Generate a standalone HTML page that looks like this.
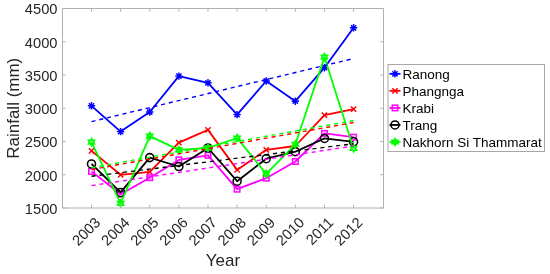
<!DOCTYPE html>
<html><head><meta charset="utf-8"><style>
html,body{margin:0;padding:0;background:#fff;width:550px;height:274px;overflow:hidden}
svg{display:block;will-change:transform}
text{-webkit-font-smoothing:antialiased}
.g{will-change:transform}
text{font-family:"Liberation Sans", sans-serif}
</style></head><body>
<svg width="550" height="274" viewBox="0 0 550 274">
<rect width="550" height="274" fill="#fff"/>
<g clip-path="url(#c)">
<polyline points="91.50,105.80 120.62,131.60 149.74,112.00 178.86,76.10 207.98,82.80 237.10,114.60 266.22,81.00 295.34,101.20 324.46,67.70 353.58,27.80" stroke="#0000ff" stroke-width="1.8" fill="none" stroke-linejoin="round"/><path d="M87.80,105.80L95.20,105.80M88.88,103.18L94.12,108.42M91.50,102.10L91.50,109.50M94.12,103.18L88.88,108.42" stroke="#0000ff" stroke-width="1.45" fill="none"/><path d="M116.92,131.60L124.32,131.60M118.00,128.98L123.24,134.22M120.62,127.90L120.62,135.30M123.24,128.98L118.00,134.22" stroke="#0000ff" stroke-width="1.45" fill="none"/><path d="M146.04,112.00L153.44,112.00M147.12,109.38L152.36,114.62M149.74,108.30L149.74,115.70M152.36,109.38L147.12,114.62" stroke="#0000ff" stroke-width="1.45" fill="none"/><path d="M175.16,76.10L182.56,76.10M176.24,73.48L181.48,78.72M178.86,72.40L178.86,79.80M181.48,73.48L176.24,78.72" stroke="#0000ff" stroke-width="1.45" fill="none"/><path d="M204.28,82.80L211.68,82.80M205.36,80.18L210.60,85.42M207.98,79.10L207.98,86.50M210.60,80.18L205.36,85.42" stroke="#0000ff" stroke-width="1.45" fill="none"/><path d="M233.40,114.60L240.80,114.60M234.48,111.98L239.72,117.22M237.10,110.90L237.10,118.30M239.72,111.98L234.48,117.22" stroke="#0000ff" stroke-width="1.45" fill="none"/><path d="M262.52,81.00L269.92,81.00M263.60,78.38L268.84,83.62M266.22,77.30L266.22,84.70M268.84,78.38L263.60,83.62" stroke="#0000ff" stroke-width="1.45" fill="none"/><path d="M291.64,101.20L299.04,101.20M292.72,98.58L297.96,103.82M295.34,97.50L295.34,104.90M297.96,98.58L292.72,103.82" stroke="#0000ff" stroke-width="1.45" fill="none"/><path d="M320.76,67.70L328.16,67.70M321.84,65.08L327.08,70.32M324.46,64.00L324.46,71.40M327.08,65.08L321.84,70.32" stroke="#0000ff" stroke-width="1.45" fill="none"/><path d="M349.88,27.80L357.28,27.80M350.96,25.18L356.20,30.42M353.58,24.10L353.58,31.50M356.20,25.18L350.96,30.42" stroke="#0000ff" stroke-width="1.45" fill="none"/><polyline points="91.50,150.90 120.62,174.80 149.74,171.90 178.86,142.60 207.98,129.90 237.10,169.90 266.22,149.80 295.34,146.00 324.46,115.20 353.58,109.20" stroke="#ff0000" stroke-width="1.8" fill="none" stroke-linejoin="round"/><path d="M88.85,148.25L94.15,153.55M88.85,153.55L94.15,148.25" stroke="#ff0000" stroke-width="1.45" fill="none"/><path d="M117.97,172.15L123.27,177.45M117.97,177.45L123.27,172.15" stroke="#ff0000" stroke-width="1.45" fill="none"/><path d="M147.09,169.25L152.39,174.55M147.09,174.55L152.39,169.25" stroke="#ff0000" stroke-width="1.45" fill="none"/><path d="M176.21,139.95L181.51,145.25M176.21,145.25L181.51,139.95" stroke="#ff0000" stroke-width="1.45" fill="none"/><path d="M205.33,127.25L210.63,132.55M205.33,132.55L210.63,127.25" stroke="#ff0000" stroke-width="1.45" fill="none"/><path d="M234.45,167.25L239.75,172.55M234.45,172.55L239.75,167.25" stroke="#ff0000" stroke-width="1.45" fill="none"/><path d="M263.57,147.15L268.87,152.45M263.57,152.45L268.87,147.15" stroke="#ff0000" stroke-width="1.45" fill="none"/><path d="M292.69,143.35L297.99,148.65M292.69,148.65L297.99,143.35" stroke="#ff0000" stroke-width="1.45" fill="none"/><path d="M321.81,112.55L327.11,117.85M321.81,117.85L327.11,112.55" stroke="#ff0000" stroke-width="1.45" fill="none"/><path d="M350.93,106.55L356.23,111.85M350.93,111.85L356.23,106.55" stroke="#ff0000" stroke-width="1.45" fill="none"/><polyline points="91.50,171.40 120.62,194.20 149.74,177.70 178.86,159.90 207.98,155.30 237.10,189.20 266.22,178.20 295.34,161.50 324.46,133.40 353.58,137.20" stroke="#ff00ff" stroke-width="1.8" fill="none" stroke-linejoin="round"/><rect x="88.75" y="168.65" width="5.50" height="5.50" stroke="#ff00ff" stroke-width="1.5" fill="none"/><rect x="117.87" y="191.45" width="5.50" height="5.50" stroke="#ff00ff" stroke-width="1.5" fill="none"/><rect x="146.99" y="174.95" width="5.50" height="5.50" stroke="#ff00ff" stroke-width="1.5" fill="none"/><rect x="176.11" y="157.15" width="5.50" height="5.50" stroke="#ff00ff" stroke-width="1.5" fill="none"/><rect x="205.23" y="152.55" width="5.50" height="5.50" stroke="#ff00ff" stroke-width="1.5" fill="none"/><rect x="234.35" y="186.45" width="5.50" height="5.50" stroke="#ff00ff" stroke-width="1.5" fill="none"/><rect x="263.47" y="175.45" width="5.50" height="5.50" stroke="#ff00ff" stroke-width="1.5" fill="none"/><rect x="292.59" y="158.75" width="5.50" height="5.50" stroke="#ff00ff" stroke-width="1.5" fill="none"/><rect x="321.71" y="130.65" width="5.50" height="5.50" stroke="#ff00ff" stroke-width="1.5" fill="none"/><rect x="350.83" y="134.45" width="5.50" height="5.50" stroke="#ff00ff" stroke-width="1.5" fill="none"/><polyline points="91.50,163.90 120.62,192.40 149.74,157.60 178.86,166.50 207.98,148.00 237.10,181.20 266.22,158.70 295.34,151.70 324.46,138.40 353.58,141.80" stroke="#000000" stroke-width="1.8" fill="none" stroke-linejoin="round"/><circle cx="91.50" cy="163.90" r="4.0" stroke="#000000" stroke-width="1.55" fill="none"/><circle cx="120.62" cy="192.40" r="4.0" stroke="#000000" stroke-width="1.55" fill="none"/><circle cx="149.74" cy="157.60" r="4.0" stroke="#000000" stroke-width="1.55" fill="none"/><circle cx="178.86" cy="166.50" r="4.0" stroke="#000000" stroke-width="1.55" fill="none"/><circle cx="207.98" cy="148.00" r="4.0" stroke="#000000" stroke-width="1.55" fill="none"/><circle cx="237.10" cy="181.20" r="4.0" stroke="#000000" stroke-width="1.55" fill="none"/><circle cx="266.22" cy="158.70" r="4.0" stroke="#000000" stroke-width="1.55" fill="none"/><circle cx="295.34" cy="151.70" r="4.0" stroke="#000000" stroke-width="1.55" fill="none"/><circle cx="324.46" cy="138.40" r="4.0" stroke="#000000" stroke-width="1.55" fill="none"/><circle cx="353.58" cy="141.80" r="4.0" stroke="#000000" stroke-width="1.55" fill="none"/><polyline points="91.50,142.10 120.62,203.40 149.74,136.10 178.86,149.90 207.98,148.00 237.10,138.00 266.22,173.90 295.34,144.30 324.46,57.10 353.58,148.40" stroke="#00ff00" stroke-width="1.8" fill="none" stroke-linejoin="round"/><path d="M91.50,138.80L92.45,140.45L94.36,140.45L93.41,142.10L94.36,143.75L92.45,143.75L91.50,145.40L90.55,143.75L88.64,143.75L89.59,142.10L88.64,140.45L90.55,140.45Z" stroke="#00ff00" stroke-width="1.8" fill="none" stroke-linejoin="miter" stroke-miterlimit="10"/><path d="M120.62,200.10L121.57,201.75L123.48,201.75L122.53,203.40L123.48,205.05L121.57,205.05L120.62,206.70L119.67,205.05L117.76,205.05L118.71,203.40L117.76,201.75L119.67,201.75Z" stroke="#00ff00" stroke-width="1.8" fill="none" stroke-linejoin="miter" stroke-miterlimit="10"/><path d="M149.74,132.80L150.69,134.45L152.60,134.45L151.65,136.10L152.60,137.75L150.69,137.75L149.74,139.40L148.79,137.75L146.88,137.75L147.83,136.10L146.88,134.45L148.79,134.45Z" stroke="#00ff00" stroke-width="1.8" fill="none" stroke-linejoin="miter" stroke-miterlimit="10"/><path d="M178.86,146.60L179.81,148.25L181.72,148.25L180.77,149.90L181.72,151.55L179.81,151.55L178.86,153.20L177.91,151.55L176.00,151.55L176.95,149.90L176.00,148.25L177.91,148.25Z" stroke="#00ff00" stroke-width="1.8" fill="none" stroke-linejoin="miter" stroke-miterlimit="10"/><path d="M207.98,144.70L208.93,146.35L210.84,146.35L209.89,148.00L210.84,149.65L208.93,149.65L207.98,151.30L207.03,149.65L205.12,149.65L206.07,148.00L205.12,146.35L207.03,146.35Z" stroke="#00ff00" stroke-width="1.8" fill="none" stroke-linejoin="miter" stroke-miterlimit="10"/><path d="M237.10,134.70L238.05,136.35L239.96,136.35L239.01,138.00L239.96,139.65L238.05,139.65L237.10,141.30L236.15,139.65L234.24,139.65L235.19,138.00L234.24,136.35L236.15,136.35Z" stroke="#00ff00" stroke-width="1.8" fill="none" stroke-linejoin="miter" stroke-miterlimit="10"/><path d="M266.22,170.60L267.17,172.25L269.08,172.25L268.13,173.90L269.08,175.55L267.17,175.55L266.22,177.20L265.27,175.55L263.36,175.55L264.31,173.90L263.36,172.25L265.27,172.25Z" stroke="#00ff00" stroke-width="1.8" fill="none" stroke-linejoin="miter" stroke-miterlimit="10"/><path d="M295.34,141.00L296.29,142.65L298.20,142.65L297.25,144.30L298.20,145.95L296.29,145.95L295.34,147.60L294.39,145.95L292.48,145.95L293.43,144.30L292.48,142.65L294.39,142.65Z" stroke="#00ff00" stroke-width="1.8" fill="none" stroke-linejoin="miter" stroke-miterlimit="10"/><path d="M324.46,53.80L325.41,55.45L327.32,55.45L326.37,57.10L327.32,58.75L325.41,58.75L324.46,60.40L323.51,58.75L321.60,58.75L322.55,57.10L321.60,55.45L323.51,55.45Z" stroke="#00ff00" stroke-width="1.8" fill="none" stroke-linejoin="miter" stroke-miterlimit="10"/><path d="M353.58,145.10L354.53,146.75L356.44,146.75L355.49,148.40L356.44,150.05L354.53,150.05L353.58,151.70L352.63,150.05L350.72,150.05L351.67,148.40L350.72,146.75L352.63,146.75Z" stroke="#00ff00" stroke-width="1.8" fill="none" stroke-linejoin="miter" stroke-miterlimit="10"/>
<line x1="91.50" y1="121.61" x2="353.58" y2="58.51" stroke="#0000ff" stroke-width="1.4" stroke-dasharray="4.1 3.85"/><line x1="91.50" y1="169.49" x2="353.58" y2="122.55" stroke="#ff0000" stroke-width="1.4" stroke-dasharray="4.1 3.85"/><line x1="91.50" y1="185.59" x2="353.58" y2="146.01" stroke="#ff00ff" stroke-width="1.4" stroke-dasharray="4.1 3.85"/><line x1="91.50" y1="176.29" x2="353.58" y2="143.75" stroke="#000000" stroke-width="1.4" stroke-dasharray="4.1 3.85"/><line x1="91.50" y1="167.69" x2="353.58" y2="120.55" stroke="#00ff00" stroke-width="1.4" stroke-dasharray="4.1 3.85"/>
</g>
<path d="M62.5,8.5H383.5V208.0H62.5Z" fill="none" stroke="#b0b0b0" stroke-width="1"/>
<path d="M91.50,208.0V204.8M91.50,8.5V11.7M120.62,208.0V204.8M120.62,8.5V11.7M149.74,208.0V204.8M149.74,8.5V11.7M178.86,208.0V204.8M178.86,8.5V11.7M207.98,208.0V204.8M207.98,8.5V11.7M237.10,208.0V204.8M237.10,8.5V11.7M266.22,208.0V204.8M266.22,8.5V11.7M295.34,208.0V204.8M295.34,8.5V11.7M324.46,208.0V204.8M324.46,8.5V11.7M353.58,208.0V204.8M353.58,8.5V11.7M62.5,8.50H65.7M383.5,8.50H380.3M62.5,41.75H65.7M383.5,41.75H380.3M62.5,75.00H65.7M383.5,75.00H380.3M62.5,108.25H65.7M383.5,108.25H380.3M62.5,141.50H65.7M383.5,141.50H380.3M62.5,174.75H65.7M383.5,174.75H380.3M62.5,208.00H65.7M383.5,208.00H380.3" stroke="#b0b0b0" stroke-width="1" fill="none"/>
<g font-family="Liberation Sans, sans-serif" font-size="14.7" fill="#262626">
<text x="57.50" y="14.40" text-anchor="end">4500</text><text x="57.50" y="47.65" text-anchor="end">4000</text><text x="57.50" y="80.90" text-anchor="end">3500</text><text x="57.50" y="114.15" text-anchor="end">3000</text><text x="57.50" y="147.40" text-anchor="end">2500</text><text x="57.50" y="180.65" text-anchor="end">2000</text><text x="57.50" y="213.90" text-anchor="end">1500</text>
<text x="0" y="0" text-anchor="end" transform="translate(97.60,219.60) rotate(-45) translate(0,5.3)">2003</text><text x="0" y="0" text-anchor="end" transform="translate(126.72,219.60) rotate(-45) translate(0,5.3)">2004</text><text x="0" y="0" text-anchor="end" transform="translate(155.84,219.60) rotate(-45) translate(0,5.3)">2005</text><text x="0" y="0" text-anchor="end" transform="translate(184.96,219.60) rotate(-45) translate(0,5.3)">2006</text><text x="0" y="0" text-anchor="end" transform="translate(214.08,219.60) rotate(-45) translate(0,5.3)">2007</text><text x="0" y="0" text-anchor="end" transform="translate(243.20,219.60) rotate(-45) translate(0,5.3)">2008</text><text x="0" y="0" text-anchor="end" transform="translate(272.32,219.60) rotate(-45) translate(0,5.3)">2009</text><text x="0" y="0" text-anchor="end" transform="translate(301.44,219.60) rotate(-45) translate(0,5.3)">2010</text><text x="0" y="0" text-anchor="end" transform="translate(330.56,219.60) rotate(-45) translate(0,5.3)">2011</text><text x="0" y="0" text-anchor="end" transform="translate(359.68,219.60) rotate(-45) translate(0,5.3)">2012</text>
</g>
<g font-family="Liberation Sans, sans-serif" font-size="17" fill="#262626">
<text x="223.00" y="266" text-anchor="middle">Year</text>
<text x="0" y="0" text-anchor="middle" transform="translate(19.3,108.25) rotate(-90)">Rainfall (mm)</text>
</g>
<g font-family="Liberation Sans, sans-serif" font-size="13.5" fill="#000">
<rect x="388.0" y="64.5" width="156.5" height="87.0" fill="#fff" stroke="#a8a8a8" stroke-width="1"/><line x1="389.5" y1="73.80" x2="400.5" y2="73.80" stroke="#0000ff" stroke-width="1.8"/><path d="M391.30,73.80L398.70,73.80M392.38,71.18L397.62,76.42M395.00,70.10L395.00,77.50M397.62,71.18L392.38,76.42" stroke="#0000ff" stroke-width="1.45" fill="none"/><text x="402.5" y="79.10">Ranong</text><line x1="389.5" y1="90.85" x2="400.5" y2="90.85" stroke="#ff0000" stroke-width="1.8"/><path d="M392.35,88.20L397.65,93.50M392.35,93.50L397.65,88.20" stroke="#ff0000" stroke-width="1.45" fill="none"/><text x="402.5" y="96.15">Phangnga</text><line x1="389.5" y1="107.90" x2="400.5" y2="107.90" stroke="#ff00ff" stroke-width="1.8"/><rect x="392.25" y="105.15" width="5.50" height="5.50" stroke="#ff00ff" stroke-width="1.5" fill="none"/><text x="402.5" y="113.20">Krabi</text><line x1="389.5" y1="124.95" x2="400.5" y2="124.95" stroke="#000000" stroke-width="1.8"/><circle cx="395.00" cy="124.95" r="4.0" stroke="#000000" stroke-width="1.55" fill="none"/><text x="402.5" y="130.25">Trang</text><line x1="389.5" y1="142.00" x2="400.5" y2="142.00" stroke="#00ff00" stroke-width="1.8"/><path d="M395.00,138.70L395.95,140.35L397.86,140.35L396.91,142.00L397.86,143.65L395.95,143.65L395.00,145.30L394.05,143.65L392.14,143.65L393.09,142.00L392.14,140.35L394.05,140.35Z" stroke="#00ff00" stroke-width="1.8" fill="none" stroke-linejoin="miter" stroke-miterlimit="10"/><text x="402.5" y="147.30">Nakhorn Si Thammarat</text>
</g>
<defs><clipPath id="c"><rect x="62.5" y="8.5" width="321.0" height="199.5"/></clipPath></defs>
</svg>
</body></html>
